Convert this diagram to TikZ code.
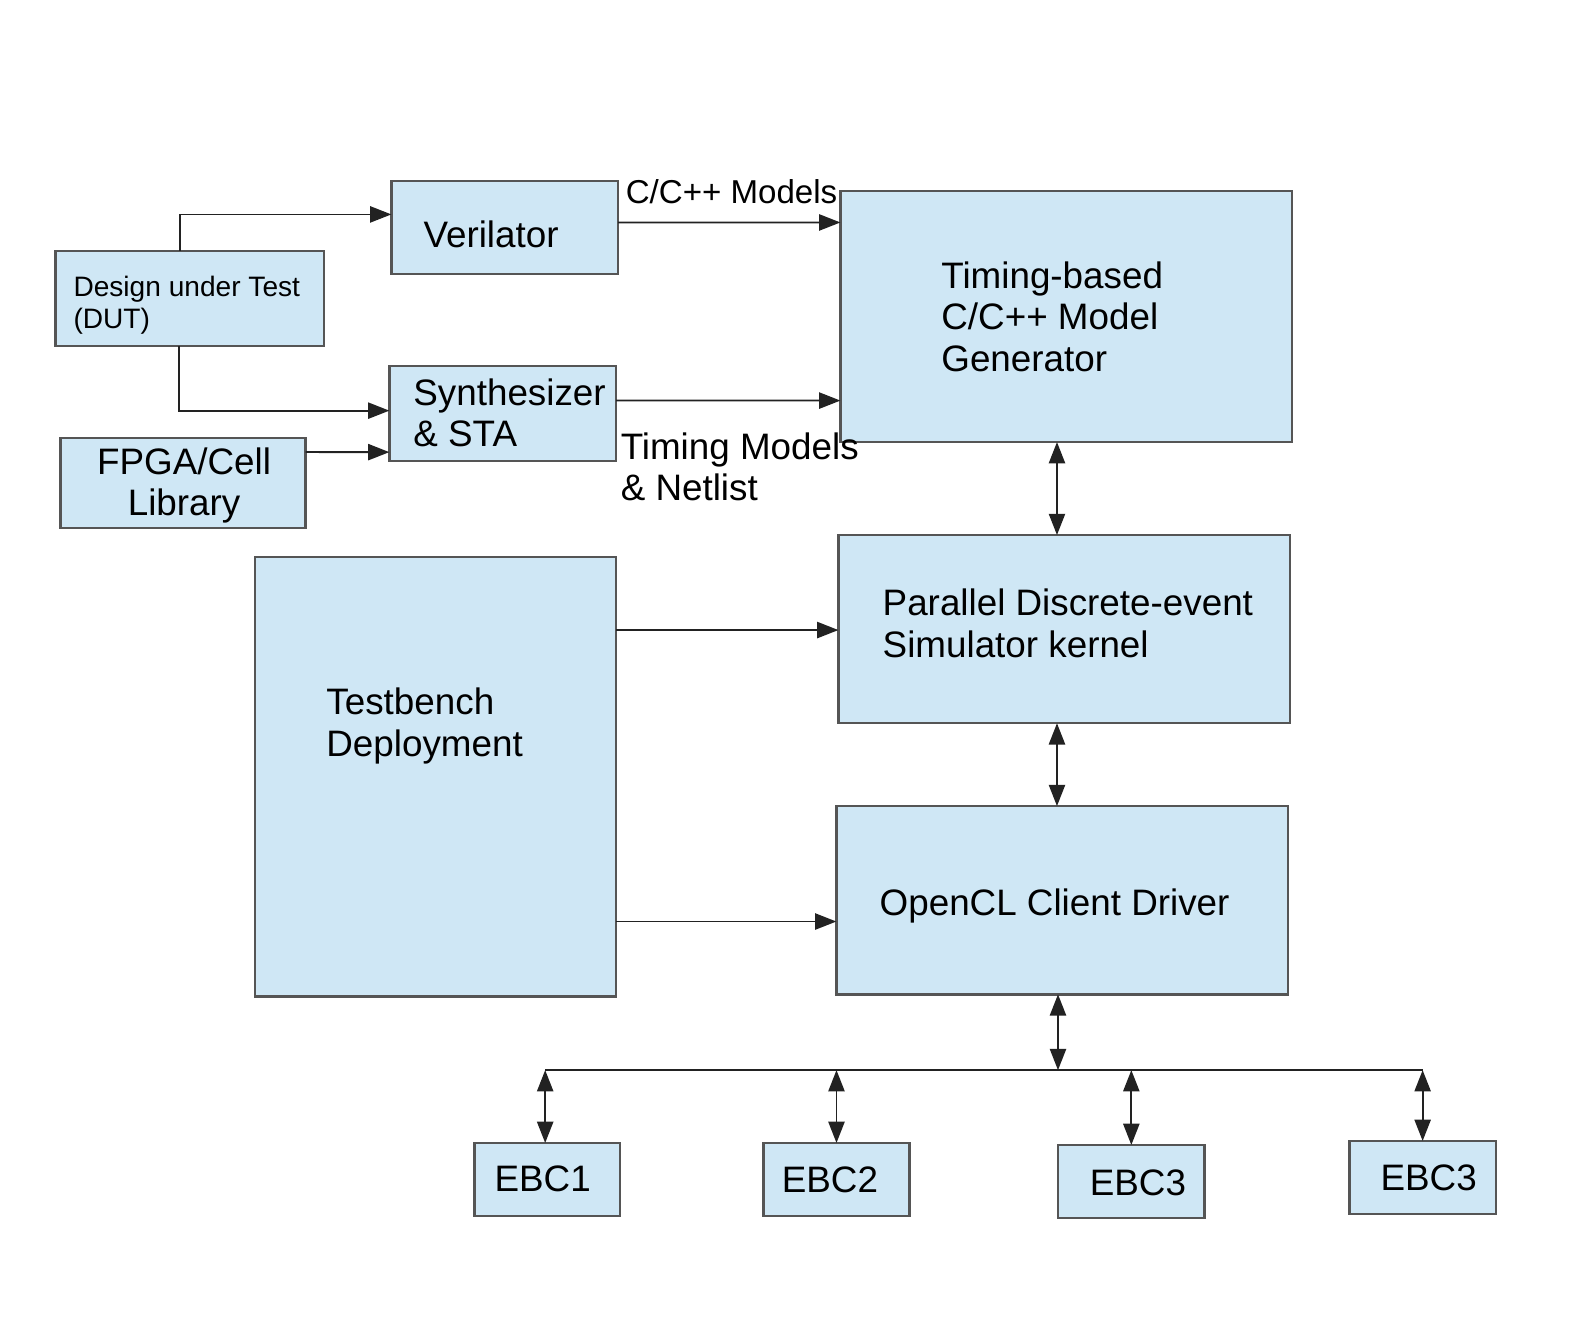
\documentclass[tikz,border=0pt]{standalone}
\usepackage{fontspec}
\setmainfont{Liberation Sans}
\usetikzlibrary{arrows.meta,calc}
\definecolor{boxfill}{HTML}{CFE7F5}
\definecolor{boxline}{HTML}{555555}
\definecolor{wire}{HTML}{222222}
\begin{document}
\begin{tikzpicture}[x=0.01cm,y=-0.01cm,
 box/.style={draw=boxline,fill=boxfill,line width=0.7pt,inner sep=0pt,outer sep=0pt},
 txt/.style={inner sep=0pt,font=\fontsize{10.35}{11.7}\selectfont,align=left},
 smalltxt/.style={inner sep=0pt,font=\fontsize{7.9}{9.1}\selectfont,align=left},
 lbltxt/.style={inner sep=0pt,font=\fontsize{9.3}{10.6}\selectfont,align=left},
 wireline/.style={draw=wire,line width=0.5pt},
 arr/.style={wireline,-{Triangle[length=0.21cm,width=0.16cm]}},
 darr/.style={wireline,{Triangle[length=0.21cm,width=0.16cm]}-{Triangle[length=0.21cm,width=0.16cm]}},
]
\useasboundingbox[fill=white] (0,0) rectangle (1568,1319);

% boxes
\node[box,minimum width=2.65cm,minimum height=0.94cm] (dut) at (187.5,295) {};
\node[box,minimum width=2.24cm,minimum height=0.92cm] (ver) at (499,225) {};
\node[box,minimum width=2.24cm,minimum height=0.94cm] (syn) at (497,409) {};
\node[box,minimum width=2.42cm,minimum height=0.89cm] (fpga) at (181,477.5) {};
\node[box,minimum width=4.46cm,minimum height=2.48cm] (gen) at (1054,313) {};
\node[box,minimum width=4.46cm,minimum height=1.86cm] (pdes) at (1052,622) {};
\node[box,minimum width=3.57cm,minimum height=4.34cm] (tb) at (430.5,768) {};
\node[box,minimum width=4.46cm,minimum height=1.86cm] (ocl) at (1050,890) {};
\node[box,minimum width=1.44cm,minimum height=0.72cm] (e1) at (541,1166) {};
\node[box,minimum width=1.44cm,minimum height=0.72cm] (e2) at (827,1166) {};
\node[box,minimum width=1.45cm,minimum height=0.72cm] (e3) at (1118.5,1168) {};
\node[box,minimum width=1.45cm,minimum height=0.72cm] (e4) at (1406.5,1164) {};

% texts
\node[smalltxt,anchor=west] (tdut) at (72,302) {Design under Test\\(DUT)};
\node[txt,anchor=west] (tver) at (418,232) {Verilator};
\node[txt,anchor=west] (tsyn) at (408,408) {Synthesizer\\\& STA};
\node[txt,align=center] (tfpga) at (182,480) {FPGA/Cell\\Library};
\node[txt,anchor=west] (tgen) at (930,313) {Timing-based\\C/C++ Model\\Generator};
\node[txt,anchor=west] (tpdes) at (872,616) {Parallel Discrete-event\\Simulator kernel};
\node[txt,anchor=west] (ttb) at (322,718) {Testbench\\Deployment};
\node[txt,anchor=west] (tocl) at (869,896) {OpenCL Client Driver};
\node[txt] (te1) at (536.5,1165) {EBC1};
\node[txt] (te2) at (820.5,1166) {EBC2};
\node[txt] (te3) at (1125,1169) {EBC3};
\node[txt] (te4) at (1412.5,1164) {EBC3};
\node[lbltxt,anchor=west] (lcc) at (618,190) {C/C++ Models};
\node[txt,anchor=west] (ltm) at (613,461.5) {Timing Models\\\& Netlist};

% connectors
\draw[arr] ([xshift=-0.095cm]dut.north) |- ([yshift=0.13cm]ver.west);
\draw[arr] ([xshift=-0.105cm]dut.south) |- ([yshift=0.03cm]syn.west);
\draw[arr] ([yshift=0.305cm]fpga.east) -- ([yshift=-0.38cm]syn.west);
\draw[arr] ([yshift=0.05cm]ver.east) -- ([yshift=0.93cm]gen.west);
\draw[arr] ([yshift=0.13cm]syn.east) -- ([yshift=-0.83cm]gen.west);
\draw[darr] ([xshift=-0.09cm]gen.south) -- ([xshift=-0.09cm]gen.south |- pdes.north);
\draw[darr] ([xshift=-0.07cm]pdes.south) -- ([xshift=-0.07cm]pdes.south |- ocl.north);
\draw[arr] ([yshift=1.45cm]tb.east) -- ([yshift=1.45cm]tb.east -| pdes.west);
\draw[arr] ([yshift=-1.43cm]tb.east) -- ([yshift=-1.43cm]tb.east -| ocl.west);

\coordinate (bus) at (1046,1058);
\draw[darr] ([xshift=-0.04cm]ocl.south) -- ([xshift=-0.04cm]ocl.south |- bus);
\draw[wireline] ([xshift=-0.02cm]e1.north |- bus) -- (e4.north |- bus);
\draw[darr] ([xshift=-0.02cm]e1.north |- bus) -- ([xshift=-0.02cm]e1.north);
\draw[darr] (e2.north |- bus) -- (e2.north);
\draw[darr] (e3.north |- bus) -- (e3.north);
\draw[darr] (e4.north |- bus) -- (e4.north);
\end{tikzpicture}
\end{document}
